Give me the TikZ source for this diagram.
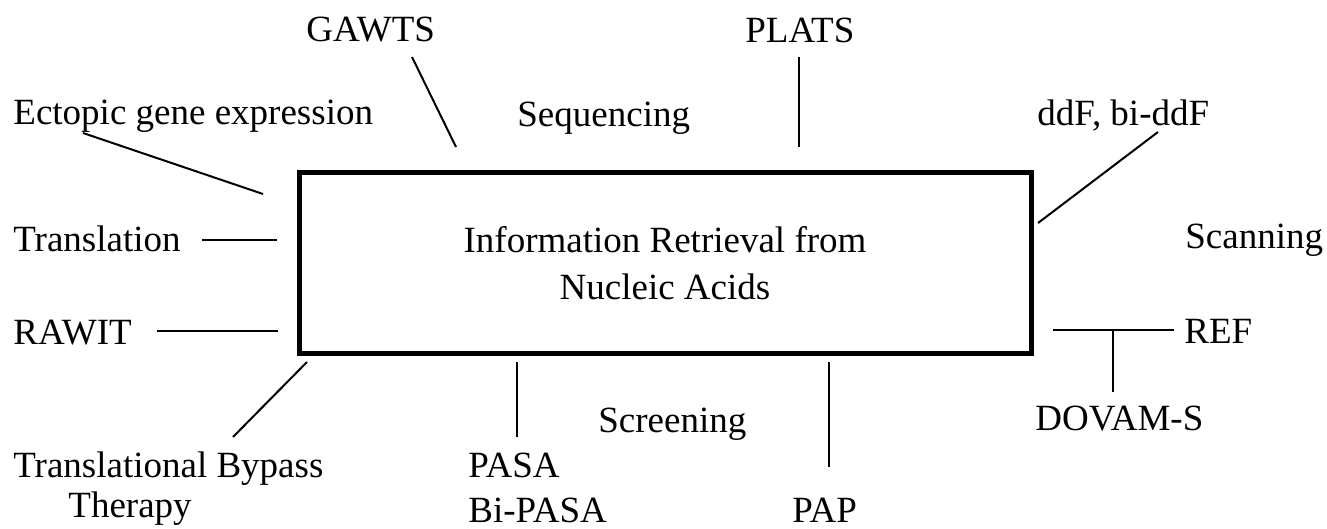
\documentclass[tikz,border=0pt]{standalone}
\usepackage{fontspec}
\setmainfont{Liberation Serif}
\usetikzlibrary{positioning}
\tikzstyle{Block} = [draw, rectangle, line width=2.5pt, minimum width=366pt, minimum height=90pt, align=center, inner sep=0pt]
\tikzstyle{Text} = [inner sep=0pt, anchor=base west]
\tikzstyle{Link} = [line width=1pt]

\begin{document}
\begin{tikzpicture}[x=0.5pt, y=-0.5pt, font=\fontsize{18.5}{23.5}\selectfont]
    \useasboundingbox (0,0) rectangle (1327,529);
    \node[Block] (retrieval) at (665,263) {Information Retrieval from\\Nucleic Acids};
    % labels round the box
    \node[Text] (gawts)       at (306,42)  {GAWTS};
    \node[Text] (plats)       at (745,43)  {PLATS};
    \node[Text] (ectopic)     at (13,125)  {Ectopic gene expression};
    \node[Text] (sequencing)  at (517,127) {Sequencing};
    \node[Text] (ddf)         at (1037,126) {ddF, bi-ddF};
    \node[Text] (translation) at (13,252)  {Translation};
    \node[Text] (scanning)    at (1185,249) {Scanning};
    \node[Text] (rawit)       at (13,344)  {RAWIT};
    \node[Text] (ref)         at (1184,343) {REF};
    \node[Text] (dovam)       at (1035,430) {DOVAM-S};
    \node[Text] (screening)   at (598,432) {Screening};
    \node[Text, align=left, font=\fontsize{18.5}{20}\selectfont] (bypass) at (13,517) {Translational Bypass\\\hspace{27.5pt}Therapy};
    \node[Text, align=left, font=\fontsize{18.5}{22.5}\selectfont] (pasa) at (468,522) {PASA\\Bi-PASA};
    \node[Text] (pap)         at (792,522) {PAP};
    % line ends
    \coordinate (gawts_a)  at (412,57);   \coordinate (gawts_b)  at (456,147);
    \coordinate (plats_a)  at (799,57);   \coordinate (plats_b)  at (799,147);
    \coordinate (ecto_a)   at (83,133);   \coordinate (ecto_b)   at (263,194);
    \coordinate (ddf_a)    at (1158,132); \coordinate (ddf_b)    at (1038,223);
    \coordinate (trans_a)  at (202,240);  \coordinate (trans_b)  at (277,240);
    \coordinate (rawit_a)  at (157,331);  \coordinate (rawit_b)  at (278,331);
    \coordinate (bypass_a) at (233,437);  \coordinate (bypass_b) at (307,362);
    \coordinate (pasa_a)   at (517,437);  \coordinate (pasa_b)   at (517,362);
    \coordinate (pap_a)    at (829,467);  \coordinate (pap_b)    at (829,362);
    \coordinate (ref_a)    at (1174,330); \coordinate (ref_b)    at (1053,330);
    \coordinate (dovam_a)  at (1113,392); \coordinate (dovam_b)  at (1113,330);
    \draw[Link] (gawts_a)  -- (gawts_b);
    \draw[Link] (plats_a)  -- (plats_b);
    \draw[Link] (ecto_a)   -- (ecto_b);
    \draw[Link] (ddf_a)    -- (ddf_b);
    \draw[Link] (trans_a)  -- (trans_b);
    \draw[Link] (rawit_a)  -- (rawit_b);
    \draw[Link] (bypass_a) -- (bypass_b);
    \draw[Link] (pasa_a)   -- (pasa_b);
    \draw[Link] (pap_a)    -- (pap_b);
    \draw[Link] (ref_a)    -- (ref_b);
    \draw[Link] (dovam_a)  -- (dovam_b);
\end{tikzpicture}
\end{document}
